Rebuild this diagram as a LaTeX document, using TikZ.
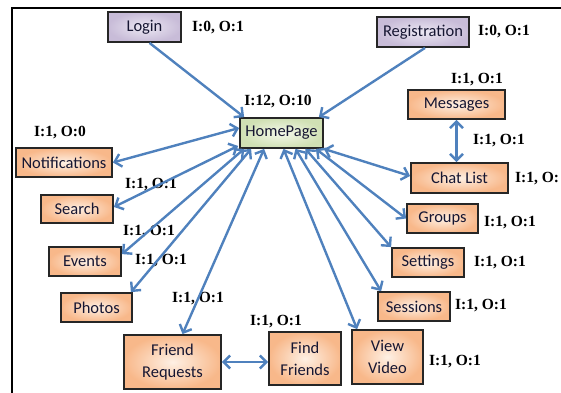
\documentclass[tikz,border=0pt]{standalone}
\usepackage{fontspec}
\setmainfont{Carlito}
\newfontfamily\lblfont{Liberation Serif}
\usetikzlibrary{arrows.meta,calc}

\definecolor{linkblue}{RGB}{79,129,189}
\definecolor{boxtext}{RGB}{22,22,50}
\definecolor{peachout}{RGB}{248,184,138}
\definecolor{peachin}{RGB}{254,240,228}
\definecolor{lilacout}{RGB}{200,188,216}
\definecolor{lilacin}{RGB}{236,232,243}
\definecolor{sageout}{RGB}{208,224,180}
\definecolor{sagein}{RGB}{244,248,234}

\tikzset{
  anybox/.style={draw=black!85, line width=1.8pt, inner sep=0pt, align=center,
    text=boxtext, font=\fontsize{16.5}{22}\selectfont},
  pagebox/.style={anybox, inner color=peachin, outer color=peachout},
  entrybox/.style={anybox, inner color=lilacin, outer color=lilacout},
  hubbox/.style={anybox, inner color=sagein, outer color=sageout},
  count/.style={font=\lblfont\bfseries\fontsize{15.5}{16}\selectfont, inner sep=0pt},
  link/.style={draw=linkblue, line width=2.4pt,
    {Straight Barb[length=6.5pt,width=13pt]}-{Straight Barb[length=6.5pt,width=13pt]}},
  flow/.style={draw=linkblue, line width=2.4pt,
    -{Straight Barb[length=6.5pt,width=13pt]}}
}

\begin{document}
\begin{tikzpicture}[x=1pt,y=-1pt]
\useasboundingbox (0,0) rectangle (561,392);
\clip (0,0) rectangle (561,392);

% outer frame (top and left edges only)
\draw[line width=2.6pt, black] (12,395) -- (12,8) -- (565,8);

% pages
\node[entrybox, minimum width=73pt, minimum height=30pt] (login) at (144.5,27) {Login};
\node[entrybox, minimum width=92pt, minimum height=30pt] (reg) at (423,32) {Registration};
\node[hubbox, minimum width=83pt, minimum height=30pt] (home) at (281.5,133) {HomePage};
\node[pagebox, minimum width=97pt, minimum height=29pt] (msg) at (456.5,104.5) {Messages};
\node[pagebox, minimum width=97pt, minimum height=30pt] (chat) at (459.5,178) {Chat List};
\node[pagebox, minimum width=96pt, minimum height=29pt] (notif) at (64,162.5) {Notifications};
\node[pagebox, minimum width=72pt, minimum height=28pt] (search) at (77,209) {Search};
\node[pagebox, minimum width=72pt, minimum height=29pt] (events) at (85,261.5) {Events};
\node[pagebox, minimum width=71pt, minimum height=29pt] (photos) at (96.5,307.5) {Photos};
\node[pagebox, minimum width=97pt, minimum height=54pt] (freq) at (172.5,362) {Friend\\Requests};
\node[pagebox, minimum width=72pt, minimum height=53pt] (ffr) at (305,358.5) {Find\\Friends};
\node[pagebox, minimum width=71pt, minimum height=54pt] (vvid) at (387.5,357) {View\\Video};
\node[pagebox, minimum width=72pt, minimum height=29pt] (sess) at (414,306.5) {Sessions};
\node[pagebox, minimum width=72pt, minimum height=29pt] (sett) at (428,262.5) {Settings};
\node[pagebox, minimum width=71pt, minimum height=29pt] (groups) at (442.5,218.5) {Groups};

% in/out degree labels
\node[count] (cLogin) at (218,28) {I:0, O:1};
\node[count] (cReg) at (504,32) {I:0, O:1};
\node[count] (cHome) at (278,102) {I:12, O:10};
\node[count] (cMsg) at (477,80) {I:1, O:1};
\node[count] (cMsgChat) at (499,141) {I:1, O:1};
\node[count, anchor=west] (cChat) at (515,179) {I:1, O:};
\node[count] (cNotif) at (60,133) {I:1, O:0};
\node[count] (cSearch) at (151,185) {I:1, O:1};
\node[count] (cEvents) at (149,232) {I:1, O:1};
\node[count] (cPhotos) at (161,261) {I:1, O:1};
\node[count] (cFreq) at (198,299) {I:1, O:1};
\node[count] (cFfr) at (276,322) {I:1, O:1};
\node[count] (cVvid) at (455,362) {I:1, O:1};
\node[count] (cSess) at (481,306) {I:1, O:1};
\node[count] (cSett) at (500,263) {I:1, O:1};
\node[count] (cGroups) at (510,223) {I:1, O:1};

% navigation links
\draw[flow] ([xshift=5pt]login.south) -- ([xshift=5pt]home.north west);
\draw[flow] ([xshift=2pt]reg.south) -- ([xshift=-5pt]home.north east);
\draw[link] ([yshift=5pt]home.west) -- (notif.east);
\draw[link] ([xshift=-1pt,yshift=3pt]home.south west) -- ([yshift=2pt]search.east);
\draw[link] ([xshift=5pt]home.south west) -- ([yshift=-8pt]events.north east);
\draw[link] ([xshift=12pt]home.south west) -- ([xshift=-2pt]photos.north east);
\draw[link] ([xshift=25pt]home.south west) -- ([xshift=10pt]freq.north);
\draw[link] ([xshift=2pt]home.south) -- ([xshift=6pt]vvid.north west);
\draw[link] ([xshift=14pt]home.south) -- ([xshift=4pt]sess.north west);
\draw[link] ([xshift=24pt]home.south) -- (sett.north west);
\draw[link] ([xshift=-8pt]home.south east) -- (groups.west);
\draw[link] (home.south east) -- ([yshift=2pt]chat.west);
\draw[link] (msg.south) -- (msg.south |- chat.north);
\draw[link] (freq.east) -- (freq.east -| ffr.west);
\end{tikzpicture}
\end{document}
